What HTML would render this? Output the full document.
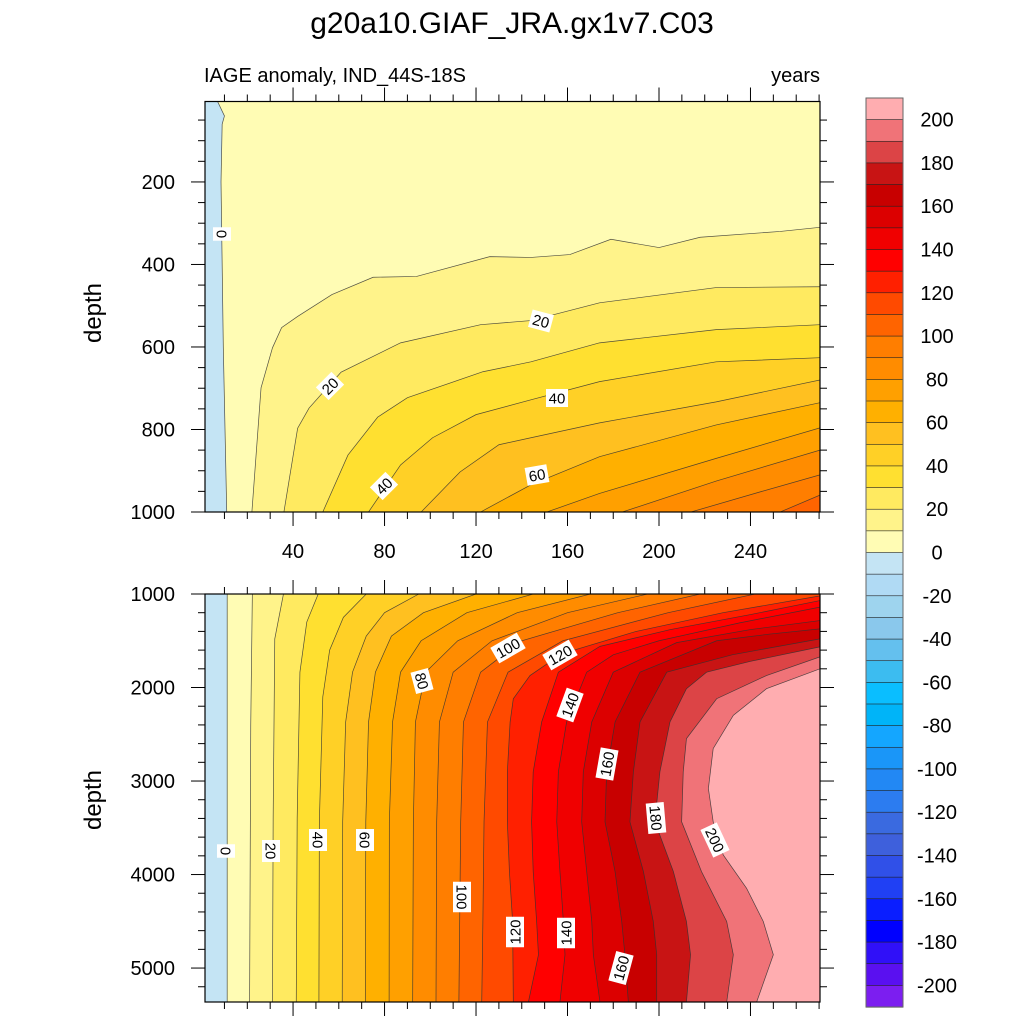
<!DOCTYPE html>
<html><head><meta charset="utf-8">
<style>
html,body{margin:0;padding:0;background:#fff;}
svg{display:block;font-family:"Liberation Sans",sans-serif;}
</style></head>
<body>
<svg id="chart" width="1024" height="1024" viewBox="0 0 1024 1024" xmlns="http://www.w3.org/2000/svg">
<text x="512" y="33" font-size="30" text-anchor="middle">g20a10.GIAF_JRA.gx1v7.C03</text>
<text x="204" y="82" font-size="20">IAGE anomaly, IND_44S-18S</text>
<text x="820" y="82" font-size="20" text-anchor="end">years</text>
<text transform="translate(101,313) rotate(-90)" font-size="24" text-anchor="middle">depth</text>
<text transform="translate(101,800) rotate(-90)" font-size="24" text-anchor="middle">depth</text>
<g id="topPanel"></g>
<g id="botPanel"></g>
<g id="cbar"></g>
</svg>
<script>
// ---- colour bands (0-10 up to >200) ----
const warmColors = ["#fffcb4","#fff38a","#ffea60","#ffe030","#ffd026","#ffc020","#ffb000","#ffa000","#ff8c00","#ff7e00","#ff6400","#ff4a00","#ff2000","#ff0000","#f00000","#dc0000","#c80000","#c81414","#dc4446","#f07378","#ffadb0"];
const coolColors = ["#c4e4f4","#b0daf4","#9ed4ee","#8ac8ec","#64c0ee","#3cbcf0","#0abeff","#00b4f8","#14a6ff","#1a96f8","#2288f4","#2c7cf0","#3a6ae0","#3e60dc","#3050e8","#2040f4","#0a1eff","#0000ff","#3010f8","#5a10f0","#7c1ef0"];
const cbarLabels = [200,180,160,140,120,100,80,60,40,20,0,-20,-40,-60,-80,-100,-120,-140,-160,-180,-200];
const xTickLabels = [40,80,120,160,200,240];
const topYTicks = [200,400,600,800,1000];
const botYTicks = [1000,2000,3000,4000,5000];

// ---- top panel contours (year, depth) ----
const topZero = [[7,5],[10,40],[9,60],[8.5,200],[9.5,600],[11,1000]];
const topLevels = [10,20,30,40,50,60,70,80,90,100];
const topC10 = [[22,1000],[26,699],[31,602],[35,553],[42,526],[57,473],[75,431],[94,429],[126,381],[144,383],[161,376],[179,339],[200,359],[218,334],[253,320],[270.4,310]];
const topC20 = [[36,1000],[42,797],[47,748],[61,661],[87,590],[122,546],[144,536],[174,493],[225,456],[270.4,454]];
const topC30 = [[53,1000],[64,862],[77,770],[90,723],[123,660],[144,636],[174,590],[225,558],[270.4,546]];
const topC40 = [[73,1000],[87,886],[101,820],[120,764],[144,728],[174,684],[225,636],[270.4,626]];
const topC50 = [[96,1000],[113,903],[130,837],[144,820],[174,784],[225,733],[270.4,680]];
const topC60 = [[122,1000],[144,934],[174,866],[225,789],[270.4,735]];
const topC70 = [[151,1000],[174,955],[225,870],[270.4,796]];
const topC80 = [[184,1000],[225,925],[270.4,850]];
const topC90 = [[214,1000],[245,950],[270.4,910]];
const topC100 = [[253,1000],[270.4,959]];

// ---- bottom panel contours (year, depth) ----
const botZero = [[11.2,1000],[11.2,5363]];
const botLevels = [10,20,30,40,50,60,70,80,90,100,110,120,130,140,150,160,170,180,190,200];
const botC10 = [[22.2,1000],[21.5,2400],[21,5363]];
const botC20 = [[35.8,1000],[32,1480],[31.3,3400],[31,5363]];
const botC30 = [[51,1000],[46,1300],[43,1836],[41.8,3400],[41.4,5363]];
const botC40 = [[72,1000],[62,1250],[56,1600],[53,2100],[51.5,3436],[51.3,5363]];
const botC50 = [[95,1000],[80,1200],[72,1450],[66,1836],[63,2369],[61.7,3436],[61.5,5363]];
const botC60 = [[120,1000],[97,1200],[83,1450],[76,1836],[73,2369],[71.8,3436],[71.6,5363]];
const botC70 = [[145,1000],[116,1200],[96,1500],[87,1836],[83.5,2369],[82.1,3436],[82,5363]];
const botC80 = [[170,1000],[138,1200],[112,1500],[98,1836],[93.5,2369],[92.6,3436],[92.3,5363]];
const botC90 = [[195,1000],[160,1200],[127,1500],[110,1836],[104,2369],[102.8,3436],[102.5,5363]];
const botC100 = [[218,1000],[182,1200],[140,1500],[122,1836],[114.5,2369],[113.3,3436],[112.5,5363]];
const botC110 = [[242,1000],[204,1200],[158,1500],[134,1836],[125,2369],[123.5,3436],[123,4500],[122.5,5363]];
const botC120 = [[270.4,1020],[228,1200],[190,1400],[157.5,1640],[143.6,1872],[136.3,2120],[134.9,2369],[133.7,2902],[133.7,3436],[134.6,3969],[136,4502],[136.3,5363]];
const botC130 = [[270.4,1070],[240,1220],[205,1380],[174.2,1560],[156,1836],[148.7,2369],[145,2902],[144.3,3436],[145,3969],[146.5,4502],[147.3,4858],[142.9,5363]];
const botC140 = [[270.4,1140],[235,1310],[200,1500],[180,1650],[168.4,1836],[159.6,2369],[156,2902],[155.3,3436],[156.7,3969],[158.2,4502],[158.9,4858],[156.7,5363]];
const botC150 = [[270.4,1284],[240,1380],[207.7,1520],[180,1836],[170.6,2369],[166.9,2902],[166.2,3436],[168.4,3969],[170.6,4502],[171.3,4858],[174.2,5363]];
const botC160 = [[270.4,1373],[248,1430],[225.2,1500],[191.7,1836],[180.8,2369],[177.1,2902],[176.4,3436],[180.8,3969],[183.7,4502],[185.1,4858],[186.6,5363]];
const botC170 = [[270.4,1480],[232,1650],[203.4,1836],[191.7,2369],[188.8,2902],[187.3,3436],[193.2,3969],[197.5,4502],[199,4858],[199,5363]];
const botC180 = [[270.4,1565],[240,1720],[220.8,1836],[212,2013],[204.8,2369],[200.4,2902],[198.2,3436],[206.3,3969],[212,4502],[213.8,4858],[212,5363]];
const botC190 = [[270.4,1672],[247,1872],[225.2,2120],[212,2547],[210.6,2902],[209.9,3436],[218.6,3969],[229.6,4502],[232.5,4858],[229.6,5363]];
const botC200 = [[270.4,1800],[247,2013],[232.5,2298],[223.7,2653],[221.6,3080],[223.7,3436],[228.1,3791],[238.3,4147],[245.6,4502],[250,4858],[242.7,5363]];

const NS = "http://www.w3.org/2000/svg";
function mk(tag, attrs, parent){const e=document.createElementNS(NS,tag);for(const k in attrs)e.setAttribute(k,attrs[k]);parent.appendChild(e);return e;}
function bandColor(v){ if(v>=0){return warmColors[Math.min(20,Math.floor(v/10))];} return coolColors[Math.min(20,Math.floor(-v/10))]; }

function drawPanel(g, cfg){
  const sx = v => cfg.px0 + (v-cfg.xmin)/(cfg.xmax-cfg.xmin)*(cfg.px1-cfg.px0);
  const sy = v => cfg.py0 + (v-cfg.ymin)/(cfg.ymax-cfg.ymin)*(cfg.py1-cfg.py0);
  const cid = cfg.id+"-clip";
  const cp = mk("clipPath",{id:cid},g);
  mk("rect",{x:cfg.px0,y:cfg.py0,width:cfg.px1-cfg.px0,height:cfg.py1-cfg.py0},cp);
  const fg = mk("g",{"clip-path":"url(#"+cid+")"},g);
  const bg = mk("rect",{x:cfg.px0,y:cfg.py0,width:cfg.px1-cfg.px0,height:cfg.py1-cfg.py0,fill:bandColor(0)},fg);
  
  
  let d = "M"+sx(cfg.xmin)+","+sy(cfg.ymin);
  cfg.zero.forEach(p=>{d+=" L"+sx(p[0])+","+sy(p[1]);});
  d += " L"+sx(cfg.xmin)+","+sy(cfg.ymax)+" Z";
  const neg = mk("path",{d:d,fill:bandColor(-5),stroke:"none"},fg);
  
  
  cfg.levels.forEach((lv,i)=>{
    const c = cfg.contours[i];
    let pd = "M"+c.map(p=>sx(p[0])+","+sy(p[1])).join(" L");
    pd += " L"+sx(cfg.xmax)+","+sy(cfg.ymax);
    if(cfg.closeTop) pd += " L"+sx(cfg.xmax)+","+sy(cfg.ymin);
    pd += " Z";
    const band = mk("path",{d:pd,fill:bandColor(lv+5),stroke:"none"},fg);
    
    
  });
  const allLines = [cfg.zero].concat(cfg.contours);
  allLines.forEach(c=>{
    const ln = mk("path",{d:"M"+c.map(p=>sx(p[0])+","+sy(p[1])).join(" L"),fill:"none",stroke:"#333",
      "stroke-width":0.7,"stroke-opacity":0.85},fg);
    
    
  });
  mk("rect",{x:cfg.px0,y:cfg.py0,width:cfg.px1-cfg.px0,height:cfg.py1-cfg.py0,fill:"none",stroke:"#000","stroke-width":1.2},g);
  for(let v=10; v<=cfg.xmax; v+=10){
    const major = v%40===0, L = major?14:7, x=sx(v);
    mk("line",{x1:x,x2:x,y1:cfg.py1,y2:cfg.py1+L,stroke:"#000","stroke-width":1},g);
    mk("line",{x1:x,x2:x,y1:cfg.py0,y2:cfg.py0-L,stroke:"#000","stroke-width":1},g);
  }
  if(cfg.xlabels){
    xTickLabels.forEach(v=>{
      const t = mk("text",{x:sx(v),y:cfg.py1+46,"font-size":20,"text-anchor":"middle"},g);
      t.textContent=v;
      
      
    });
  }
  for(let v=Math.ceil(cfg.ymin/cfg.minor)*cfg.minor; v<=cfg.ymax; v+=cfg.minor){
    const major = v%cfg.major===0, L = major?14:7, y=sy(v);
    mk("line",{x1:cfg.px0,x2:cfg.px0-L,y1:y,y2:y,stroke:"#000","stroke-width":1},g);
    mk("line",{x1:cfg.px1,x2:cfg.px1+L,y1:y,y2:y,stroke:"#000","stroke-width":1},g);
  }
  cfg.yticks.forEach(v=>{
    const t = mk("text",{x:cfg.px0-30,y:sy(v)+7,"font-size":20,"text-anchor":"end"},g);
    t.textContent=v;
    
    
  });
  cfg.labels.forEach(l=>{
    const lg = mk("g",{transform:"translate("+l[1]+","+l[2]+") rotate("+l[3]+")"},g);
    
    
    const w = String(l[0]).length*8.5+5;
    mk("rect",{x:-w/2,y:-9,width:w,height:18,fill:"#fff"},lg);
    const t = mk("text",{x:0,y:5.5,"font-size":15,"text-anchor":"middle"},lg);
    t.textContent=l[0];
  });
}

drawPanel(document.getElementById("topPanel"),{
  id:"top",px0:205,px1:820,py0:101.5,py1:512,xmin:1.5,xmax:270.4,ymin:5,ymax:1000,closeTop:false,
  zero:topZero,levels:topLevels,contours:[topC10,topC20,topC30,topC40,topC50,topC60,topC70,topC80,topC90,topC100],
  minor:50,major:200,yticks:topYTicks,xlabels:true,
  labels:[[0,222,234,90],[20,541,321,15],[20,330,386,-45],[40,557,398,0],[40,384,486,-45],[60,537,475,-10]]
});
drawPanel(document.getElementById("botPanel"),{
  id:"bottom",px0:205,px1:820,py0:594,py1:1002,xmin:1.5,xmax:270.4,ymin:1000,ymax:5363,closeTop:true,
  zero:botZero,levels:botLevels,contours:[botC10,botC20,botC30,botC40,botC50,botC60,botC70,botC80,botC90,botC100,botC110,botC120,botC130,botC140,botC150,botC160,botC170,botC180,botC190,botC200],
  minor:200,major:1000,yticks:botYTicks,xlabels:false,
  labels:[[0,226,851,90],[20,271,851,90],[40,318,840,90],[60,365,840,90],[80,422,681,75],[100,508,648,-30],[120,560,655,-30],[140,570,705,-70],[160,607,764,-80],[180,656,818,85],[200,715,840,65],[100,462,897,90],[120,515,932,-90],[140,566,933,-90],[160,621,968,-75]]
});

(function(){
  const g = document.getElementById("cbar");
  const x0=866, w=37, y0=98, h=909, n=42, bh=h/n;
  const all = warmColors.slice().reverse().concat(coolColors);
  all.forEach((c,i)=>{
    const r = mk("rect",{x:x0,y:y0+i*bh,width:w,height:bh+0.3,fill:c,stroke:"#222","stroke-width":0.6},g);
    
    
  });
  mk("rect",{x:x0,y:y0,width:w,height:h,fill:"none",stroke:"#666","stroke-width":1},g);
  cbarLabels.forEach(v=>{
    const y = y0 + (210-v)/10*bh;
    const t = mk("text",{x:937,y:y+7,"font-size":20,"text-anchor":"middle"},g);
    t.textContent=v;
    
    
  });
})();
</script>
</body></html>
